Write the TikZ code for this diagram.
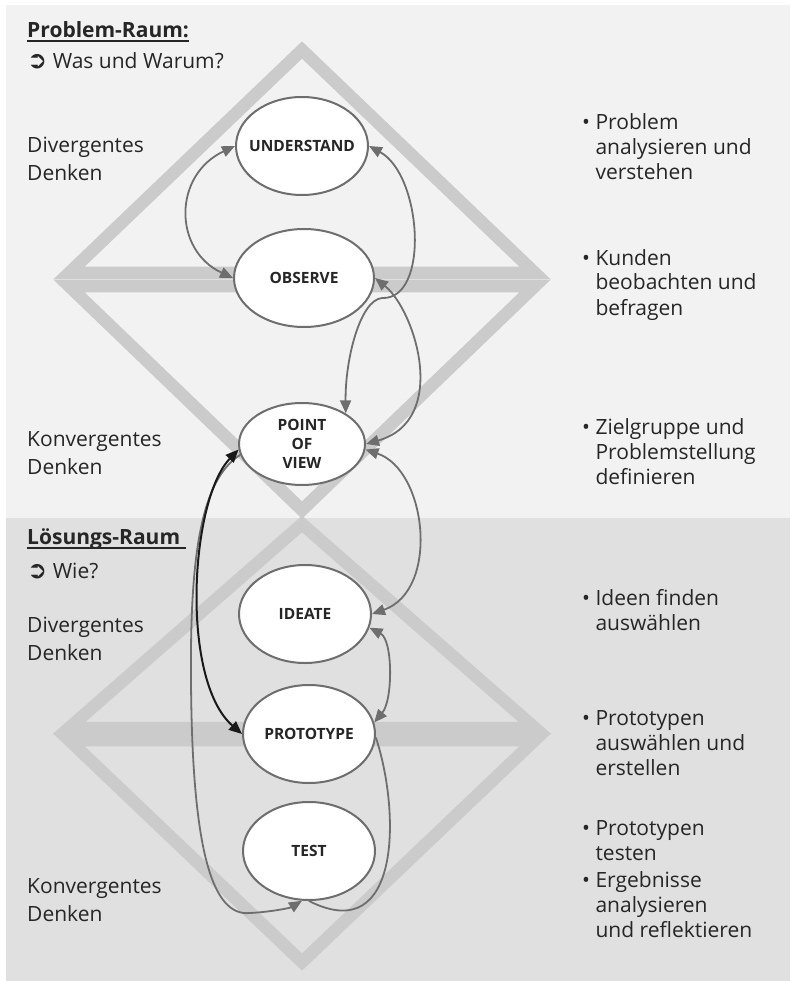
\documentclass[tikz,border=0pt]{standalone}
\usepackage{fontspec}
\setmainfont{Open Sans}
\newfontfamily\symfont{DejaVu Sans}
\usetikzlibrary{shapes.geometric,arrows.meta}
\definecolor{panelA}{HTML}{F2F2F2}
\definecolor{panelB}{HTML}{E0E0E0}
\definecolor{band}{HTML}{CBCBCB}
\definecolor{edge}{HTML}{6E6E6E}
\definecolor{txt}{HTML}{262626}
\newcommand\indnt{\phantom{•\ }}

\begin{document}
\begin{tikzpicture}[x=1pt,y=-1pt,
		every node/.style={inner sep=0pt,text=txt},
		phase/.style={ellipse,draw=edge,line width=2pt,fill=white,inner xsep=-12pt,
			minimum width=132pt,minimum height=98pt,align=center,
			font=\fontsize{15.5}{19}\selectfont\bfseries},
		side/.style={anchor=base west,align=left,font=\fontsize{21}{28}\selectfont},
		note/.style={anchor=base west,align=left,font=\fontsize{21}{25}\selectfont},
		heading/.style={anchor=base west,font=\fontsize{21}{25}\selectfont\bfseries},
		diam/.style={draw=band,line width=12.5pt},
		link/.style={draw=edge,line width=1.8pt},
		>={Triangle[length=13pt,width=11pt]}]
		\useasboundingbox (0,0) rectangle (790,981);
		\fill [panelA] (6,5) rectangle (790,518);
		\fill [panelB] (6,518) rectangle (790,981);
		\draw [diam] (69,273) -- (302,50) -- (535,273) -- cycle;
		\draw [diam] (69,286) -- (302,510) -- (535,286) -- cycle;
		\draw [diam] (69,728) -- (302,524) -- (535,728) -- cycle;
		\draw [diam] (69,740) -- (302,962) -- (535,740) -- cycle;
		\node [heading] (ptitle) at (27,38) {Problem-Raum:};
		\draw [txt,line width=1.6pt] ([yshift=-3pt]ptitle.base west) -- ([yshift=-3pt]ptitle.base east);
		\node [side] (pask) at (27,69) {{\symfont\bfseries\fontsize{24}{24}\selectfont ➲} Was und Warum?};
		\node [side] (pdiv) at (27,181) {Divergentes\\Denken};
		\node [side] (pkon) at (27,474) {Konvergentes\\Denken};
		\node [heading] (ltitle) at (27,544) {Lösungs-Raum};
		\draw [txt,line width=1.6pt] ([yshift=-4pt]ltitle.base west) -- ([xshift=6pt,yshift=-4pt]ltitle.base east);
		\node [side] (lask) at (27,578) {{\symfont\bfseries\fontsize{24}{24}\selectfont ➲} Wie?};
		\node [side] (ldiv) at (27,660) {Divergentes\\Denken};
		\node [side] (lkon) at (27,921) {Konvergentes\\Denken};
		\node [note] (n1) at (582,180) {• Problem\\\indnt analysieren und\\\indnt verstehen};
		\node [note] (n2) at (582,315) {• Kunden\\\indnt beobachten und\\\indnt befragen};
		\node [note] (n3) at (582,484) {• Zielgruppe und\\\indnt Problemstellung\\\indnt definieren};
		\node [note] (n4) at (582,630) {• Ideen finden\\\indnt auswählen};
		\node [note] (n5) at (582,775) {• Prototypen\\\indnt auswählen und\\\indnt erstellen};
		\node [note] (n6) at (582,860) {• Prototypen\\\indnt testen};
		\node [note] (n7) at (582,937) {• Ergebnisse\\\indnt analysieren\\\indnt und reflektieren};
		\node [phase] (und) at (302,146) {UNDERSTAND};
		\node [phase,minimum width=140pt] (obs) at (304,278) {OBSERVE};
		\node [phase,minimum width=126pt,minimum height=82pt] (pov) at (302,444) {POINT\\OF\\VIEW};
		\node [phase] (ide) at (305,614) {IDEATE};
		\node [phase] (pro) at (309,734) {PROTOTYPE};
		\node [phase] (tst) at (309,851) {TEST};
		\coordinate (kink) at (382,298);
		\coordinate (lft) at (191,680);
		\coordinate (bot) at (250,913);
		\draw [link,<->] (und.west) .. controls (173,175) and (173,250) .. (obs.west);
		\draw [link,<->] (pov.35) .. controls (345,360) and (360,300) .. (kink) .. controls (430,300) and (422,175) .. (und.east);
		\draw [link,<->] (obs.east) .. controls (415,310) and (450,420) .. (pov.east);
		\draw [link,<->] (pov.-5) .. controls (427,470) and (440,590) .. (ide.east);
		\draw [link,<->] (ide.-12) .. controls (393,640) and (393,700) .. (pro.10);
		\draw [link] (pro.-3) .. controls (400,810) and (402,948) .. (tst.south);
		\draw [link,->] (pov.190) .. controls (200,480) and (190,560) .. (lft) .. controls (192,850) and (212,917) .. (bot) .. controls (270,912) and (290,908) .. (tst.-98);
		\draw [link,<->,draw=black!90,line width=2pt] (pov.185) .. controls (190,500) and (180,680) .. (pro.west);
	\end{tikzpicture}
\end{document}
